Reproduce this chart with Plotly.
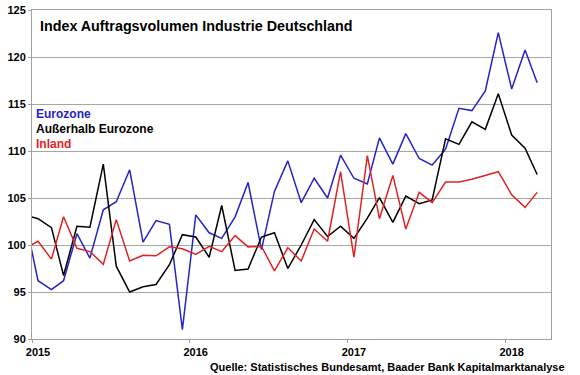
import pandas as pd
import plotly.graph_objects as go

# Monthly observations, Dec 2014 .. Mar 2018 (plotted mid-month)
months = pd.date_range("2014-12-01", "2018-03-01", freq="MS") + pd.Timedelta(days=14)

eurozone = [
    103.0,
    96.2, 95.25, 96.2, 101.2, 98.6, 103.75, 104.6, 108.0, 100.3, 102.6, 102.2, 91.0,
    103.2, 101.3, 100.7, 103.0, 106.65, 99.5, 105.7, 108.95, 104.5, 107.1, 105.0, 109.55,
    107.1, 106.5, 111.4, 108.6, 111.85, 109.2, 108.5, 110.2, 114.55, 114.3, 116.4, 122.6,
    116.6, 120.75, 117.25,
]
ausserhalb = [
    103.2,
    102.8, 101.85, 96.75, 102.0, 101.9, 108.6, 97.75, 95.0, 95.55, 95.8, 97.9, 101.1,
    100.85, 98.7, 104.2, 97.3, 97.45, 100.85, 101.3, 97.5, 100.0, 102.7, 100.9, 102.0,
    100.7, 102.85, 105.05, 102.4, 105.2, 104.4, 104.8, 111.3, 110.7, 113.1, 112.3, 116.1,
    111.7, 110.3, 107.5,
]
inland = [
    99.6,
    100.4, 98.5, 103.0, 99.65, 99.3, 97.95, 102.7, 98.3, 98.9, 98.85, 99.8, 99.6,
    99.0, 99.85, 99.3, 101.0, 99.8, 99.85, 97.25, 99.7, 98.3, 101.7, 100.4, 107.8,
    98.7, 109.5, 102.8, 107.4, 101.7, 105.6, 104.5, 106.7, 106.7, 107.0, 107.4, 107.8,
    105.35, 104.0, 105.6,
]

series_names = ["Eurozone", "Außerhalb Eurozone", "Inland"]
series_colors = ["#2424c8", "#000000", "#e02424"]
year_ticks = ["2015-01-01", "2016-01-01", "2017-01-01", "2018-01-01"]
year_labels = ["2015", "2016", "2017", "2018"]
y_ticks = [90, 95, 100, 105, 110, 115, 120, 125]

FONT = "Arial, Liberation Sans, sans-serif"

fig = go.Figure()
for name, vals, col in zip(series_names, [eurozone, ausserhalb, inland], series_colors):
    fig.add_trace(go.Scatter(x=months, y=vals, mode="lines", name=name,
                             line=dict(color=col, width=1.5), showlegend=False))

fig.update_layout(
    width=580, height=375,
    margin=dict(l=32, r=29, t=10, b=36),
    paper_bgcolor="white", plot_bgcolor="white",
    font=dict(family=FONT, size=11, color="black"),
)
fig.update_xaxes(
    type="date", range=["2015-01-01", "2018-04-16"],
    tickvals=year_ticks, ticktext=year_labels, ticklabelshift=6,
    ticks="outside", ticklen=3, tickcolor="#a0a0a0",
    showgrid=False, showline=True, linecolor="#a0a0a0", linewidth=1, mirror=True,
    tickfont=dict(family=FONT, size=11, color="black", weight="bold"),
    zeroline=False, automargin=False,
)
fig.update_yaxes(
    range=[90, 125], tickvals=y_ticks,
    ticks="outside", ticklen=3, tickcolor="#a0a0a0",
    showgrid=True, gridcolor="#a6a6a6", gridwidth=1,
    showline=True, linecolor="#a0a0a0", linewidth=1, mirror=True,
    tickfont=dict(family=FONT, size=11, color="black", weight="bold"),
    zeroline=False, automargin=False,
)

fig.add_annotation(text="Index Auftragsvolumen Industrie Deutschland",
                   xref="paper", yref="paper", x=0.011, y=0.95,
                   xanchor="left", yanchor="middle", showarrow=False,
                   font=dict(family=FONT, size=14.3, color="black", weight="bold"))

legend_y = [0.685, 0.638, 0.594]
for name, col, yy in zip(series_names, series_colors, legend_y):
    fig.add_annotation(text=name, xref="paper", yref="paper", x=0.003, y=yy,
                       xanchor="left", yanchor="middle", showarrow=False,
                       font=dict(family=FONT, size=12, color=col, weight="bold"))

fig.add_annotation(text="Quelle: Statistisches Bundesamt, Baader Bank Kapitalmarktanalyse",
                   xref="paper", yref="paper", x=1.031, y=-0.085,
                   xanchor="right", yanchor="middle", showarrow=False,
                   font=dict(family=FONT, size=11, color="black", weight="bold"))

fig.write_html("out.html", config={"displayModeBar": False},
               post_script="document.body.style.margin='0';")
